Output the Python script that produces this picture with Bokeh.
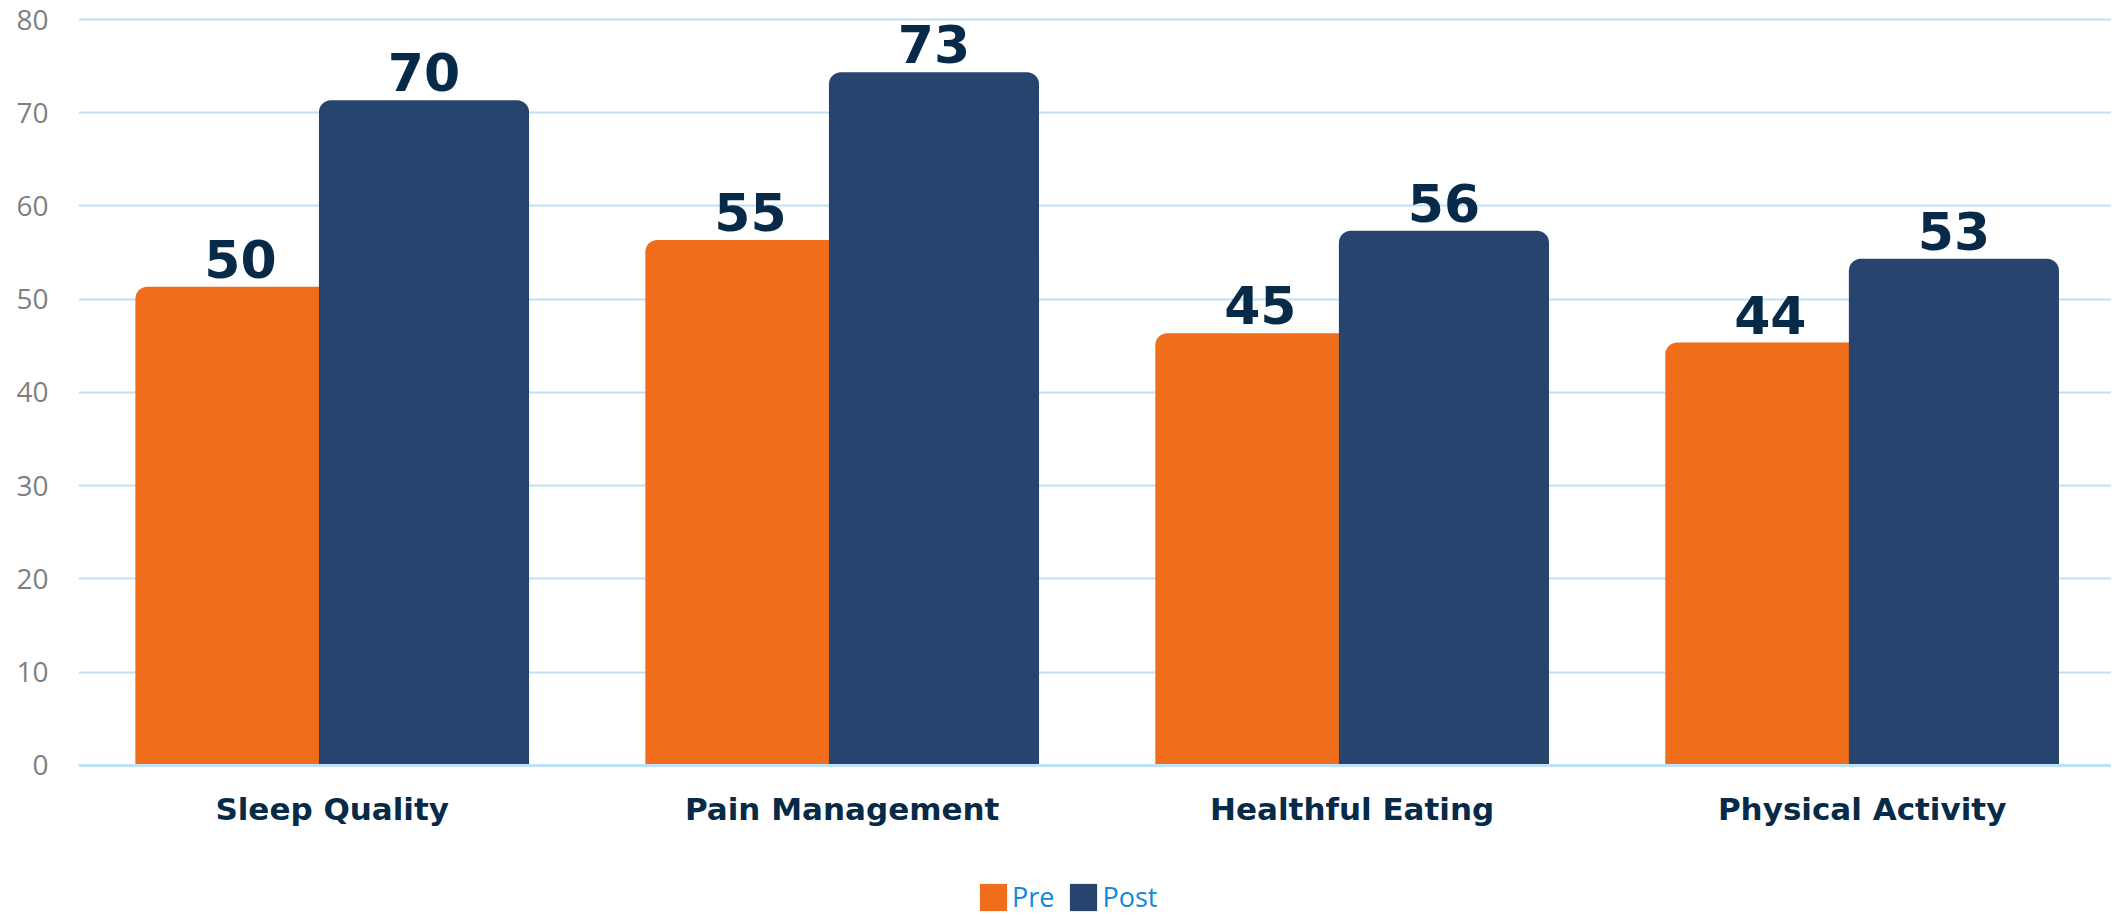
from bokeh.plotting import figure
from bokeh.models import ColumnDataSource, Range1d, FixedTicker, Legend, LegendItem, Span
from bokeh.core.properties import value
from bokeh.embed import file_html
from bokeh.resources import INLINE

categories = ["Sleep Quality", "Pain Management", "Healthful Eating", "Physical Activity"]
pre_values = [50, 55, 45, 44]
post_values = [70, 73, 56, 53]
y_ticks = [0, 10, 20, 30, 40, 50, 60, 70, 80]

PRE_COLOR = "#F06D1B"
POST_COLOR = "#27446E"
LABEL_COLOR = "#062A47"
GRID_COLOR = "#BFE1F8"
CAP = 1.35      # rounded cap drawn above the value
OFFSET = 0.18
BAR_W = 0.412

idx = list(range(len(categories)))
pre_src = ColumnDataSource(dict(
    x=[i - OFFSET for i in idx], top=[v + CAP for v in pre_values],
    label=[str(v) for v in pre_values]))
post_src = ColumnDataSource(dict(
    x=[i + OFFSET for i in idx], top=[v + CAP for v in post_values],
    label=[str(v) for v in post_values]))
cat_src = ColumnDataSource(dict(x=idx, y=[0] * len(idx), label=categories))

p = figure(width=2111, height=915, output_backend="svg", toolbar_location=None,
           x_range=Range1d(-0.4975, 3.489), y_range=Range1d(-16.09, 80.43),
           min_border_left=78, min_border_right=0, min_border_top=15, min_border_bottom=0)
p.outline_line_color = None
p.background_fill_color = "white"

p.ygrid.grid_line_color = GRID_COLOR
p.ygrid.grid_line_width = 2
p.xgrid.grid_line_color = None
p.add_layout(Span(location=0, dimension="width", line_color=GRID_COLOR, line_width=3))

r_pre = p.vbar(x="x", top="top", width=BAR_W, bottom=0, source=pre_src,
               fill_color=PRE_COLOR, line_color=None, border_radius=(12, 12, 0, 0))
r_post = p.vbar(x="x", top="top", width=BAR_W, bottom=0, source=post_src,
                fill_color=POST_COLOR, line_color=None, border_radius=(12, 12, 0, 0))

for src in (pre_src, post_src):
    p.text(x="x", y="top", text="label", source=src, text_align="center",
           text_baseline="middle", y_offset=-28,
           text_font=value("DejaVu Sans"), text_font_style="bold",
           text_font_size="52px", text_color=LABEL_COLOR)

# category labels under the baseline
p.text(x="x", y="y", text="label", source=cat_src, text_align="center",
       text_baseline="middle", y_offset=44,
       text_font=value("DejaVu Sans"), text_font_style="bold",
       text_font_size="31px", text_color=LABEL_COLOR)

# y axis
p.yaxis.ticker = FixedTicker(ticks=y_ticks)
p.yaxis.axis_line_color = None
p.yaxis.major_tick_line_color = None
p.yaxis.minor_tick_line_color = None
p.yaxis.major_tick_out = 0
p.yaxis.major_tick_in = 0
p.yaxis.major_label_standoff = 30
p.yaxis.major_label_text_font = "Open Sans"
p.yaxis.major_label_text_font_size = "28px"
p.yaxis.major_label_text_color = "#7F7F7F"
p.xaxis.visible = False

legend = Legend(items=[LegendItem(label="Pre", renderers=[r_pre]),
                       LegendItem(label="Post", renderers=[r_post])],
                orientation="horizontal", location=(898, 0),
                glyph_width=34, glyph_height=34, label_standoff=2, spacing=12,
                padding=0, margin=0, border_line_color=None, background_fill_alpha=0,
                label_text_font="Open Sans", label_text_font_size="27px",
                label_text_color="#1188DD", label_height=34)
p.add_layout(legend, "center")

open("out.html", "w").write(file_html(p, INLINE))
